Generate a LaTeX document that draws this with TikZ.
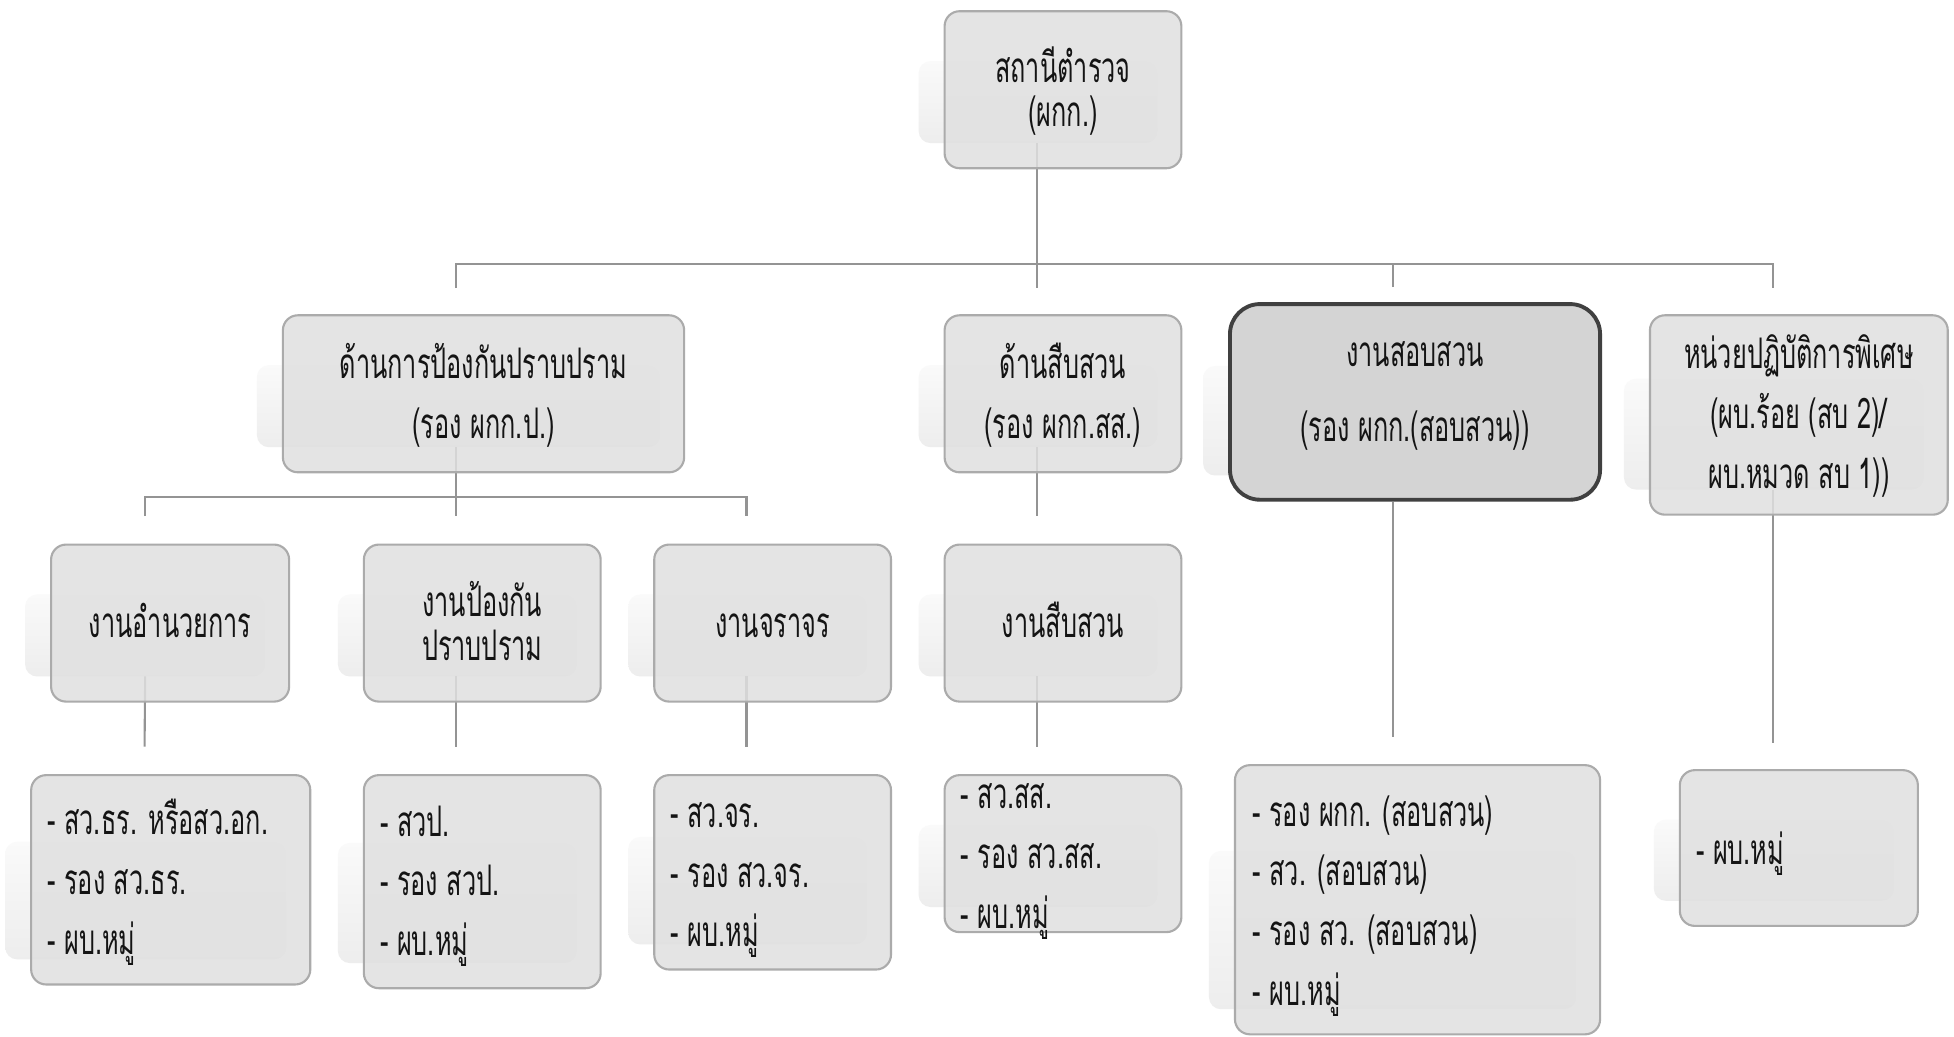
\documentclass[tikz,border=0pt]{standalone}
\usepackage{fontspec}
\newfontfamily\thaifont[Script=Thai,FakeStretch=0.6]{Loma}
\usetikzlibrary{calc,fit,backgrounds}
\newcommand\boxshadow[1]{%
  \shade[shd] ($(#1.north west)!0.32!(#1.south west)+(-20,0)$) rectangle ($(#1.south east)+(-20,-21)$);}
% text block whose first baseline sits at the box centre, raised by #1
\newcommand\boxtxt[3]{\raisebox{#1}[0pt][0pt]{\begin{minipage}[t]{#2}\centering #3\end{minipage}}}
\newcommand\listtxt[3]{\raisebox{#1}[0pt][0pt]{\begin{minipage}[t]{#2}\raggedright #3\end{minipage}}}
\begin{document}
\begin{tikzpicture}[x=0.01246cm,y=-0.01246cm,
  box/.style={draw=black!33, fill=black!12, fill opacity=0.85, text opacity=1,
    line width=0.6pt, rounded corners=0.15cm, inner sep=0pt, text=black!92,
    font=\thaifont\fontsize{12}{17}\selectfont},
  hibox/.style={box, draw=black!75, fill=black!17, fill opacity=1, line width=1.1pt, rounded corners=0.3cm},
  tight/.style={font=\thaifont\fontsize{12}{12.5}\selectfont},
  wide/.style={font=\thaifont\fontsize{12}{21.3}\selectfont},
  conn/.style={draw=black!42, line width=0.6pt},
  shd/.style={top color=black!2, bottom color=black!7, rounded corners=0.12cm}
]
\useasboundingbox (0,0) rectangle (1568,832);
% level 0
\node[box, tight, fit={(758,9)(948,135)}] (top) {\boxtxt{0.075cm}{2.3cm}{สถานีตำรวจ\\(ผกก.)}};
% level 1
\node[box, fit={(227,253)(549,379)}] (prev) {\boxtxt{0.15cm}{3.9cm}{ด้านการป้องกันปราบปราม\\(รอง ผกก.ป.)}};
\node[box, fit={(758,253)(948,379)}] (inv) {\boxtxt{0.15cm}{2.3cm}{ด้านสืบสวน\\(รอง ผกก.สส.)}};
\node[hibox, wide, fit={(987,244)(1284,401)}] (inq) {\boxtxt{0.355cm}{3.6cm}{งานสอบสวน\\(รอง ผกก.(สอบสวน))}};
\node[box, fit={(1324,253)(1563,413)}] (spec) {\boxtxt{0.461cm}{2.9cm}{หน่วยปฏิบัติการพิเศษ\\(ผบ.ร้อย (สบ 2)/\\ผบ.หมวด สบ 1))}};
% level 2
\node[box, fit={(41,437)(232,563)}] (adm) {\boxtxt{-0.149cm}{2.3cm}{งานอำนวยการ}};
\node[box, tight, fit={(292,437)(482,563)}] (pat) {\boxtxt{0.063cm}{2.3cm}{งานป้องกัน\\ปราบปราม}};
\node[box, fit={(525,437)(715,563)}] (trf) {\boxtxt{-0.149cm}{2.3cm}{งานจราจร}};
\node[box, fit={(758,437)(948,563)}] (invw) {\boxtxt{-0.149cm}{2.3cm}{งานสืบสวน}};
% level 3
\node[box, fit={(25,622)(249,790)}] (l1) {\listtxt{0.449cm}{2.467cm}{- สว.ธร. หรือสว.อก.\\- รอง สว.ธร.\\- ผบ.หมู่}};
\node[box, fit={(292,622)(482,793)}] (l2) {\listtxt{0.455cm}{2.043cm}{- สวป.\\- รอง สวป.\\- ผบ.หมู่}};
\node[box, fit={(525,622)(715,778)}] (l3) {\listtxt{0.449cm}{2.043cm}{- สว.จร.\\- รอง สว.จร.\\- ผบ.หมู่}};
\node[box, fit={(758,622)(948,748)}] (l4) {\listtxt{0.449cm}{2.043cm}{- สว.สส.\\- รอง สว.สส.\\- ผบ.หมู่}};
\node[box, fit={(991,614)(1284,830)}] (l5) {\listtxt{0.736cm}{3.302cm}{- รอง ผกก. (สอบสวน)\\- สว. (สอบสวน)\\- รอง สว. (สอบสวน)\\- ผบ.หมู่}};
\node[box, fit={(1348,618)(1539,743)}] (l6) {\listtxt{-0.168cm}{2.056cm}{- ผบ.หมู่}};
\begin{scope}[on background layer]
  \fill[white] (0,0) rectangle (1568,832);
  \foreach \n in {top,prev,inv,inq,spec,adm,pat,trf,invw,l1,l2,l3,l4,l5,l6} {\boxshadow{\n}}
  % level 0 -> 1
  \draw[conn] ($(top.south)+(-21,-21)$) -- ($(inv.north)+(-21,-21)$);
  \draw[conn] ($(prev.north)+(-22,-21)$) -- ++(0,-19) -| ($(spec.north)+(-21,-21)$);
  \draw[conn] ($(inq.north)+(-18,-12)$) -- ++(0,-19);
  % level 1 -> 2
  \draw[conn] ($(prev.south)+(-22,-21)$) -- ($(pat.north)+(-21,-22)$);
  \draw[conn] ($(adm.north)+(-20,-22)$) -- ++(0,-15) -| ($(trf.north)+(-21,-22)$);
  \draw[conn] ($(inv.south)+(-21,-21)$) -- ($(invw.north)+(-21,-22)$);
  % level 2 -> 3
  \draw[conn] ($(adm.south)+(-20,-21)$) -- ($(l1.north)+(-21,-22)$);
  \draw[conn] ($(pat.south)+(-21,-21)$) -- ($(l2.north)+(-21,-22)$);
  \draw[conn] ($(trf.south)+(-21,-21)$) -- ($(l3.north)+(-21,-22)$);
  \draw[conn] ($(invw.south)+(-21,-21)$) -- ($(l4.north)+(-21,-22)$);
  \draw[conn] ($(inq.south)+(-18,0)$) -- ($(l5.north)+(-20,-22)$);
  \draw[conn] ($(spec.south)+(-21,-21)$) -- ($(l6.north)+(-21,-21)$);
\end{scope}
\end{tikzpicture}
\end{document}
